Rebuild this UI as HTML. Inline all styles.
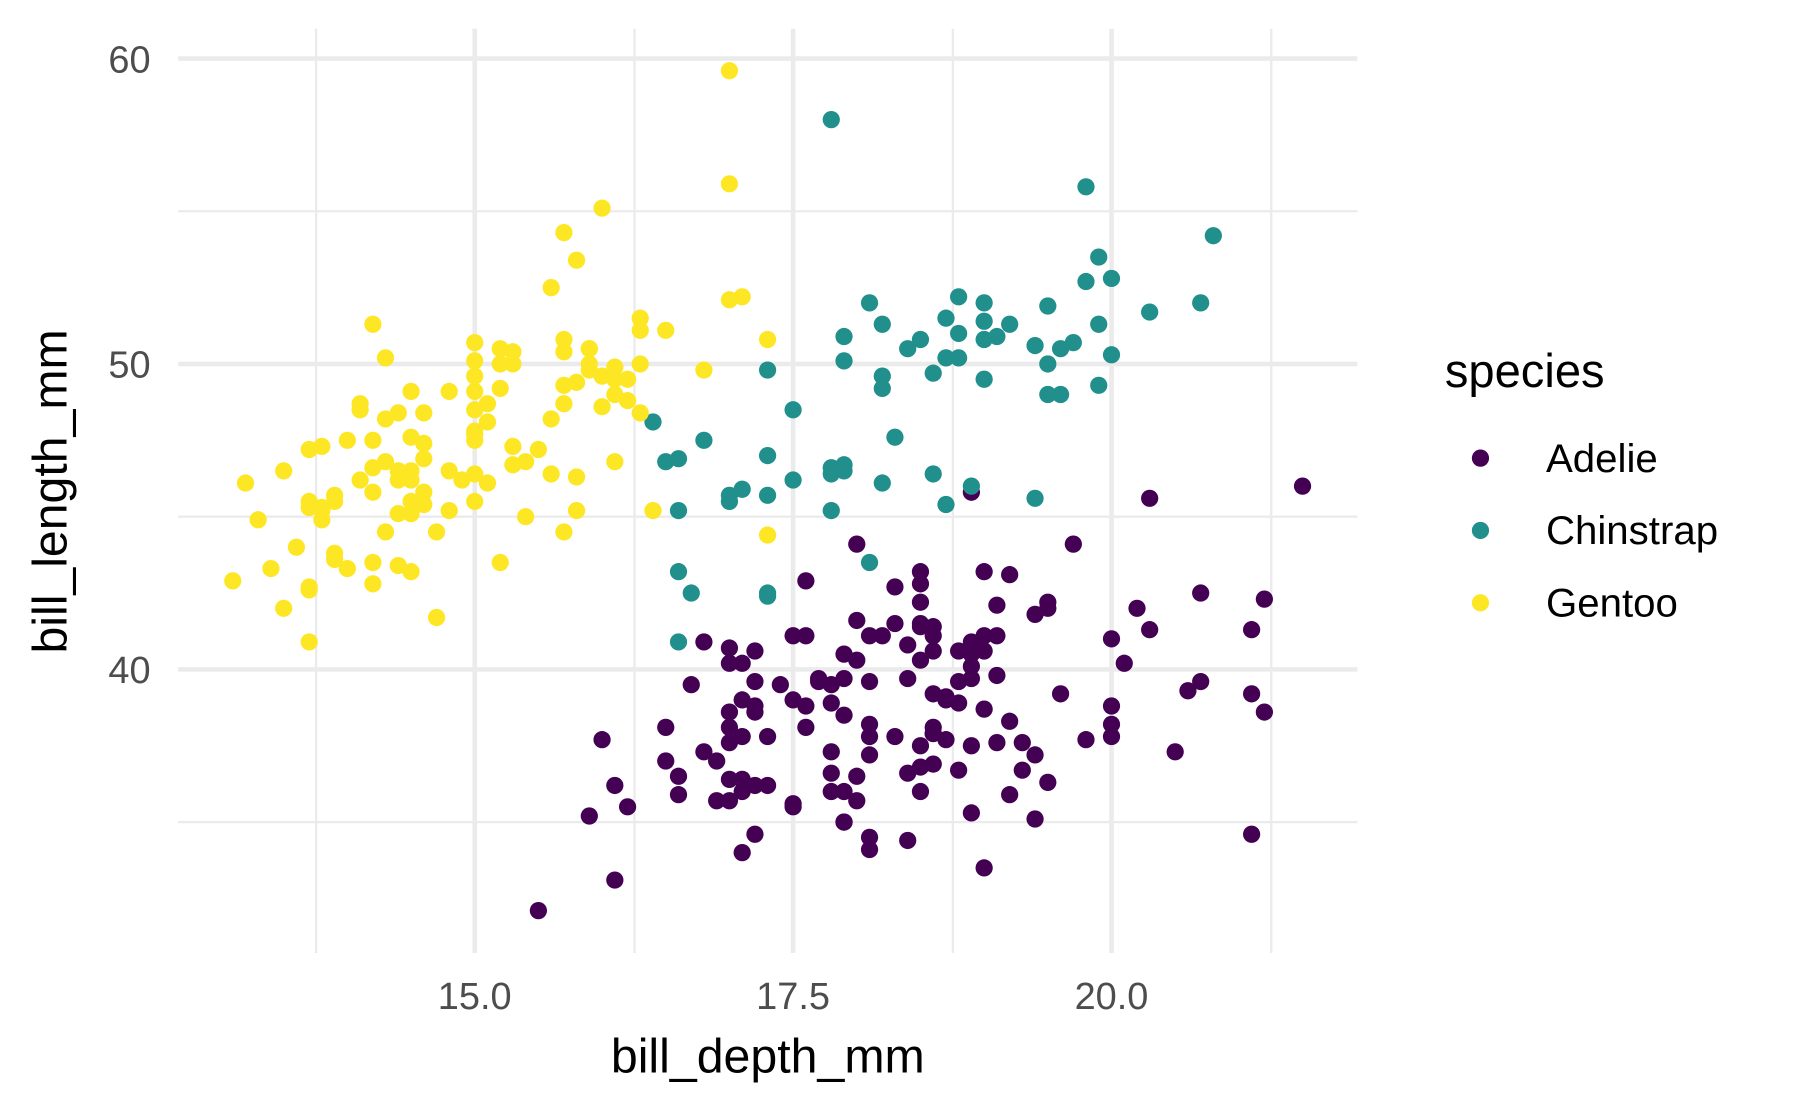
<!DOCTYPE html>
<html><head><style>html,body{margin:0;padding:0;background:#fff}svg{display:block}</style></head>
<body>
<svg id="s" width="1800" height="1112" viewBox="0 0 1566 968.5" preserveAspectRatio="none" xmlns="http://www.w3.org/2000/svg" font-family="Liberation Sans, sans-serif">
<g stroke="#ebebeb">
<g stroke-width="2">
<line x1="155" x2="1181" y1="184" y2="184"/><line x1="155" x2="1181" y1="450" y2="450"/><line x1="155" x2="1181" y1="716" y2="716"/>
<line x1="275" x2="275" y1="25" y2="830"/><line x1="552" x2="552" y1="25" y2="830"/><line x1="829" x2="829" y1="25" y2="830"/><line x1="1106" x2="1106" y1="25" y2="830"/>
</g>
<g stroke-width="4">
<line x1="155" x2="1181" y1="51" y2="51"/><line x1="155" x2="1181" y1="317" y2="317"/><line x1="155" x2="1181" y1="583" y2="583"/>
<line x1="413" x2="413" y1="25" y2="830"/><line x1="690" x2="690" y1="25" y2="830"/><line x1="967" x2="967" y1="25" y2="830"/>
</g></g>
<g fill="#4d4d4d" font-size="33" text-anchor="end">
<text x="131" y="63">60</text><text x="131" y="329">50</text><text x="131" y="595">40</text>
</g>
<g fill="#4d4d4d" font-size="33" text-anchor="middle">
<text x="413" y="879">15.0</text><text x="690" y="879">17.5</text><text x="967" y="879">20.0</text>
</g>
<text x="668" y="934" font-size="42" text-anchor="middle" fill="#000">bill_depth_mm</text>
<text transform="translate(58,428) rotate(-90)" font-size="42" text-anchor="middle" fill="#000">bill_length_mm</text>
<text x="1257" y="337" font-size="41" fill="#000">species</text>
<circle cx="1288" cy="399" r="7.5" fill="#440154"/><circle cx="1288" cy="462" r="7.5" fill="#21908C"/><circle cx="1288" cy="525" r="7.5" fill="#FDE725"/>
<g font-size="35" fill="#000"><text x="1345" y="411">Adelie</text><text x="1345" y="474">Chinstrap</text><text x="1345" y="537">Gentoo</text></g>
<g id="pts"></g>
</svg>
<script>
var A=[[39.1,18.7],[39.5,17.4],[40.3,18],[36.7,19.3],[39.3,20.6],[38.9,17.8],[39.2,19.6],[34.1,18.1],[42,20.2],[37.8,17.1],[37.8,17.3],[41.1,17.6],[38.6,21.2],[34.6,21.1],[36.6,17.8],[38.7,19],[42.5,20.7],[34.4,18.4],[46,21.5],[37.8,18.3],[37.7,18.7],[35.9,19.2],[38.2,18.1],[38.8,17.2],[35.3,18.9],[40.6,18.6],[40.5,17.9],[37.9,18.6],[40.5,18.9],[39.5,16.7],[37.2,18.1],[39.5,17.8],[40.9,18.9],[36.4,17],[39.2,21.1],[38.8,20],[42.2,18.5],[37.6,19.3],[39.8,19.1],[36.5,18],[40.8,18.4],[36,18.5],[44.1,19.7],[37,16.9],[39.6,18.8],[41.1,19],[37.5,18.9],[36,17.9],[42.3,21.2],[39.6,17.7],[40.1,18.9],[35,17.9],[42,19.5],[34.5,18.1],[41.4,18.6],[39,17.5],[40.6,18.8],[36.5,16.6],[37.6,19.1],[35.7,16.9],[41.3,21.1],[37.6,17],[41.1,18.2],[36.4,17.1],[41.6,18],[35.5,16.2],[41.1,19.1],[35.9,16.6],[41.8,19.4],[33.5,19],[39.7,18.4],[39.6,17.2],[45.8,18.9],[35.5,17.5],[42.8,18.5],[40.9,16.8],[37.2,19.4],[36.2,16.1],[42.1,19.1],[34.6,17.2],[42.9,17.6],[36.7,18.8],[35.1,19.4],[37.3,17.8],[41.3,20.3],[36.3,19.5],[36.9,18.6],[38.3,19.2],[38.9,18.8],[35.7,18],[41.1,18.1],[34,17.1],[39.6,18.1],[36.2,17.3],[40.8,18.9],[38.1,18.6],[40.3,18.5],[33.1,16.1],[43.2,18.5],[35,17.9],[41,20],[37.7,16],[37.8,20],[37.9,18.6],[39.7,18.9],[38.6,17.2],[38.2,20],[38.1,17],[43.2,19],[38.1,16.5],[45.6,20.3],[39.7,17.7],[42.2,19.5],[39.6,20.7],[42.7,18.3],[38.6,17],[37.3,20.5],[35.7,17],[41.1,18.6],[36.2,17.2],[37.7,19.8],[40.2,17],[41.4,18.5],[35.2,15.9],[40.6,19],[38.8,17.6],[41.5,18.3],[39,17.1],[44.1,18],[38.5,17.9],[43.1,19.2],[36.8,18.5],[37.5,18.5],[38.1,17.6],[41.1,17.5],[35.6,17.5],[40.2,20.1],[37,16.5],[39.7,17.9],[40.2,17.1],[40.6,17.2],[32.1,15.5],[40.7,17],[37.3,16.8],[39,18.7],[39.2,18.6],[36.6,18.4],[36,17.8],[37.8,18.1],[36,17.1],[41.5,18.5]];
var C=[[46.5,17.9],[50,19.5],[51.3,19.2],[45.4,18.7],[52.7,19.8],[45.2,17.8],[46.1,18.2],[51.3,18.2],[46,18.9],[51.3,19.9],[46.6,17.8],[51.7,20.3],[47,17.3],[52,18.1],[45.9,17.1],[50.5,19.6],[50.3,20],[58,17.8],[46.4,18.6],[49.2,18.2],[42.4,17.3],[48.5,17.5],[43.2,16.6],[50.6,19.4],[46.7,17.9],[52,19],[50.5,18.4],[49.5,19],[46.4,17.8],[52.8,20],[40.9,16.6],[54.2,20.8],[42.5,16.7],[51,18.8],[49.7,18.6],[47.5,16.8],[47.6,18.3],[52,20.7],[46.9,16.6],[53.5,19.9],[49,19.5],[46.2,17.5],[50.9,19.1],[45.5,17],[50.9,17.9],[50.8,18.5],[50.1,17.9],[49,19.6],[51.5,18.7],[49.8,17.3],[48.1,16.4],[51.4,19],[45.7,17.3],[50.7,19.7],[42.5,17.3],[52.2,18.8],[45.2,16.6],[49.3,19.9],[50.2,18.8],[45.6,19.4],[51.9,19.5],[46.8,16.5],[45.7,17],[55.8,19.8],[43.5,18.1],[49.6,18.2],[50.8,19],[50.2,18.7]];
var G=[[46.1,13.2],[50,16.3],[48.7,14.1],[50,15.2],[47.6,14.5],[46.5,13.5],[45.4,14.6],[46.7,15.3],[43.3,13.4],[46.8,15.4],[40.9,13.7],[49,16.1],[45.5,13.7],[48.4,14.6],[45.8,14.6],[49.3,15.7],[42,13.5],[49.2,15.2],[46.2,14.5],[48.7,15.1],[50.2,14.3],[45.1,14.5],[46.5,14.5],[46.3,15.8],[42.9,13.1],[46.1,15.1],[44.5,14.3],[47.8,15],[48.2,14.3],[50,15.3],[47.3,15.3],[42.8,14.2],[45.1,14.5],[59.6,17],[49.1,14.8],[48.4,16.3],[42.6,13.7],[44.4,17.3],[44,13.6],[48.7,15.7],[42.7,13.7],[49.6,16],[45.3,13.7],[49.6,15],[50.5,15.9],[43.6,13.9],[45.5,13.9],[50.5,15.9],[44.9,13.3],[45.2,15.8],[46.6,14.2],[48.5,14.1],[45.1,14.4],[50.1,15],[46.5,14.4],[45,15.4],[43.8,13.9],[45.5,15],[43.2,14.5],[50.4,15.3],[45.3,13.8],[46.2,14.9],[45.7,13.9],[54.3,15.7],[45.8,14.2],[49.8,16.8],[46.2,14.4],[49.5,16.2],[43.5,14.2],[50.7,15],[47.7,15],[46.4,15.6],[48.2,15.6],[46.5,14.8],[46.4,15],[48.6,16],[47.5,14.2],[51.1,16.3],[45.2,13.8],[45.2,16.4],[49.1,14.5],[52.5,15.6],[47.4,14.6],[50,15.9],[44.9,13.8],[50.8,17.3],[43.4,14.4],[51.3,14.2],[47.5,14],[52.1,17],[47.5,15],[52.2,17.1],[45.5,14.5],[49.5,16.1],[44.5,14.7],[50.8,15.7],[49.4,15.8],[46.9,14.6],[48.4,14.4],[51.1,16.5],[48.5,15],[55.9,17],[47.2,15.5],[49.1,15],[47.3,13.8],[46.8,16.1],[41.7,14.7],[53.4,15.8],[43.3,14],[48.1,15.1],[50.5,15.2],[49.8,15.9],[43.5,15.2],[51.5,16.3],[46.2,14.1],[55.1,16],[44.5,15.7],[48.8,16.2],[47.2,13.7],[46.8,14.3],[50.4,15.7],[45.2,14.8],[49.9,16.1]];
var h='';
function add(a,c){a.forEach(function(p){h+='<circle cx="'+(413+(p[1]-15)*110.8).toFixed(1)+'" cy="'+(317-(p[0]-50)*26.6).toFixed(1)+'" r="7.5" fill="'+c+'"/>';});}
add(A,'#440154');add(C,'#21908C');add(G,'#FDE725');
document.getElementById('pts').innerHTML=h;
</script>
</body></html>
